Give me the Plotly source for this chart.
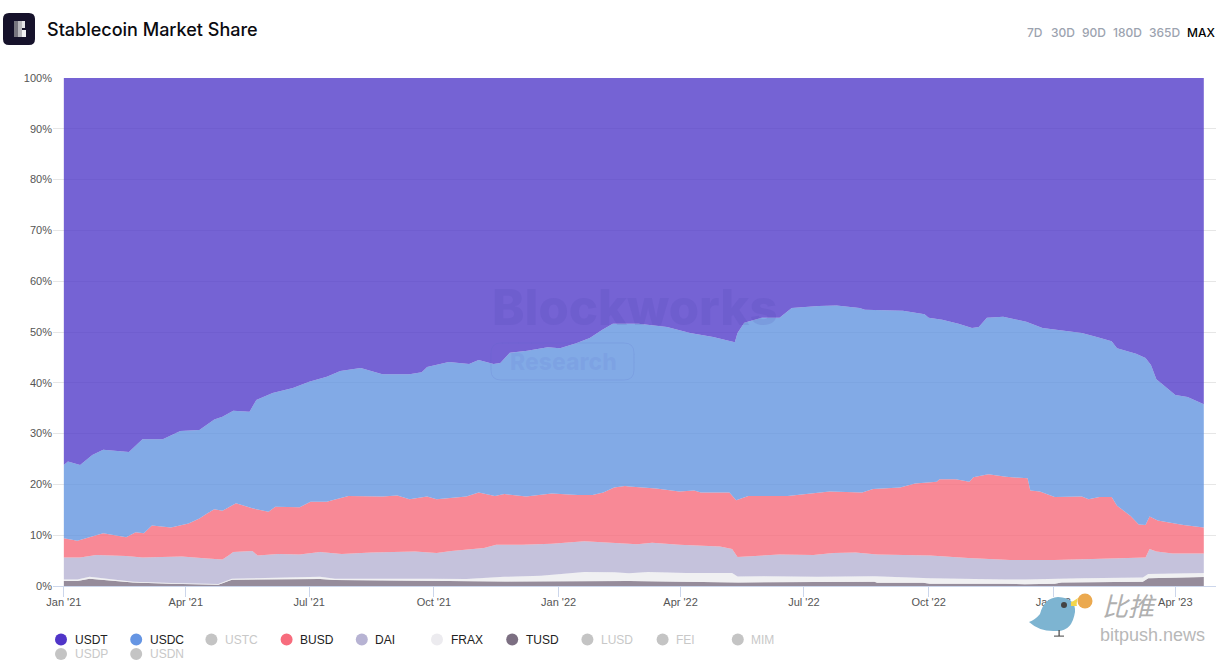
import pandas as pd
import plotly.graph_objects as go

START = pd.Timestamp("2021-01-01")

# Upper edge of each band in the 100% stack: (days since Jan 1 2021, share %)
tusd_days = [0,10,19,32,51,79,114,124,160,189,200,243,270,297,325,417,493,498,598,600,634,639,695,709,731,736,796,800,841]
tusd_top = [1.0,1.0,1.45,1.2,.7,.45,.25,1.25,1.4,1.4,1.2,1.1,1.1,1.0,.9,1.0,.85,.7,.85,.65,.65,.45,.45,.35,.45,.7,.85,1.55,1.75]

frax_days = [0,10,19,32,51,79,114,124,160,189,200,243,270,297,325,352,384,406,417,431,459,493,497,517,556,598,639,695,709,751,796,800,841]
frax_top = [1.3,1.3,1.8,1.4,.85,.6,.4,1.45,1.65,1.8,1.45,1.5,1.45,1.4,1.8,2.0,2.75,2.7,2.5,2.75,2.55,2.55,1.85,1.9,1.8,1.9,1.55,1.3,1.3,1.55,1.65,2.35,2.55]

dai_days = [0,12,24,46,58,87,106,117,122,125,139,143,158,174,189,205,227,259,275,286,310,319,338,360,384,400,417,423,434,454,484,493,497,512,528,553,568,584,600,639,667,698,731,759,798,801,806,818,841]
dai_top = [5.6,5.6,6.1,5.9,5.6,5.8,5.4,5.2,6.1,6.7,6.9,6.0,6.3,6.2,6.7,6.3,6.6,6.8,6.5,6.9,7.5,8.1,8.1,8.3,8.8,8.6,8.4,8.2,8.5,8.1,7.8,7.3,5.7,6.0,6.2,6.1,6.5,6.6,6.2,6.0,5.5,5.1,5.1,5.3,5.6,7.3,6.8,6.4,6.4]

busd_days = [0,10,29,46,53,59,65,79,92,100,106,111,117,127,139,151,156,174,182,194,198,210,235,246,255,268,275,286,297,306,318,325,341,360,379,390,398,406,414,417,437,454,465,470,491,496,505,534,565,589,597,617,628,644,646,658,668,671,682,695,711,713,720,731,751,756,764,773,777,787,793,798,801,807,826,841]
busd_top = [9.4,8.9,10.4,9.6,10.6,10.4,11.9,11.5,12.3,13.3,14.3,15.1,14.8,16.3,15.3,14.6,15.6,15.5,16.6,16.6,16.9,17.7,17.6,17.8,17.1,17.6,17.1,17.3,17.6,18.4,17.7,18.1,17.6,18.2,17.9,17.9,18.4,19.4,19.7,19.6,19.2,18.6,18.8,18.4,18.4,16.9,17.7,17.7,18.6,18.4,19.1,19.4,20.2,20.5,21,21,20.5,21.4,22,21.5,21.2,18.8,18.6,17.5,17.6,17.1,17.5,17.5,15.8,13.8,12.1,12,13.7,12.9,12,11.5]

usdc_days = [0,3,12,21,29,48,58,73,86,100,111,117,125,137,142,154,169,181,194,204,219,235,255,264,268,284,299,306,317,322,329,342,357,366,378,388,397,405,424,445,462,479,495,497,502,515,528,537,557,570,587,591,619,635,638,648,660,670,675,681,693,710,722,744,751,762,773,777,791,798,802,806,814,820,829,841]
usdc_top = [23.8,24.5,23.8,25.8,26.8,26.4,28.9,28.9,30.5,30.7,32.8,33.3,34.5,34.3,36.6,38,39,40.2,41.2,42.3,42.9,41.7,41.7,42.1,43.1,44.1,43.7,44.5,43.7,43.9,45.9,46.3,47,46.8,47.8,48.8,50.4,51.6,51.6,51,49.8,49,48,49.8,51.8,52.8,52.8,54.7,55.1,55.2,54.7,54.4,54.2,53.5,52.8,52.4,51.6,50.8,51,52.8,53,52,50.8,50,49.8,49,48.2,46.8,45.7,44.9,43.5,40.7,39,37.6,37.2,35.8]

usdt_days = [0,841]
usdt_top = [100,100]

legend_names = ["USDT","USDC","USTC","BUSD","DAI","FRAX","TUSD","LUSD","FEI","MIM","USDP","USDN"]
legend_colors = ["#5035c8","#6595e3","#c4c4c4","#f76c7d","#b7b3d3","#ecebef","#7c6f82","#c4c4c4","#c4c4c4","#c4c4c4","#c4c4c4","#c4c4c4"]
legend_active = [True,True,False,True,True,True,True,False,False,False,False,False]

x_tick_dates = ["2021-01-01","2021-04-01","2021-07-01","2021-10-01","2022-01-01","2022-04-01","2022-07-01","2022-10-01","2023-01-01","2023-04-01"]
x_tick_text = ["Jan '21","Apr '21","Jul '21","Oct '21","Jan '22","Apr '22","Jul '22","Oct '22","Jan '23","Apr '23"]
y_ticks = list(range(0,101,10))
y_tick_text = [f"{v}%" for v in y_ticks]

range_buttons = ["7D","30D","90D","180D","365D","MAX"]
range_centers = [1035,1062.5,1093.5,1127,1164,1200.5]

W, H = 1226, 661
L, R, T, B = 53, 10, 78, 75
PW, PH = W-L-R, H-T-B
def px(x): return (x-L)/PW
def py(y): return (T+PH-y)/PH
def dates(days): return [START+pd.Timedelta(days=d) for d in days]

fig = go.Figure()
bands = [
    ("TUSD", tusd_days, tusd_top, "rgba(124,111,130,.8)", "tozeroy"),
    ("FRAX", frax_days, frax_top, "rgba(236,236,239,.8)", "tonexty"),
    ("DAI", dai_days, dai_top, "rgba(183,179,211,.8)", "tonexty"),
    ("BUSD", busd_days, busd_top, "rgba(246,107,124,.8)", "tonexty"),
    ("USDC", usdc_days, usdc_top, "rgba(99,149,224,.8)", "tonexty"),
    ("USDT", usdt_days, usdt_top, "rgba(82,60,201,.8)", "tonexty"),
]
for name, d, v, c, f in bands:
    assert len(d) == len(v), name
    fig.add_trace(go.Scatter(x=dates(d), y=v, name=name, mode="lines", line=dict(width=0),
                             fill=f, fillcolor=c, showlegend=False, hoverinfo="x+y+name"))

FONT = "Liberation Sans, Arial, sans-serif"
def note(text, x, y, anchor="center", **font):
    return dict(text=text, xref="paper", yref="paper", x=px(x), y=py(y), xanchor=anchor, yanchor="middle",
                showarrow=False, font=font, borderpad=0, borderwidth=0)
ann = [
    note("Stablecoin Market Share", 47, 30, "left", family="Inter", size=18, color="#0b0b10", weight=500),
    note("Blockworks", 635, 307, family="Inter", size=49, color="rgba(70,60,170,.13)", weight=800),
    note("Research", 563, 362, family="Inter", size=23, color="rgba(90,110,210,.13)", weight=800),
    note("<i>比推</i>", 1129, 604, family="Noto Sans CJK SC", size=26, color="#b0b0b0"),
    note("bitpush.news", 1152, 635, family=FONT, size=18, color="#b8b8b8"),
]
for lab, cx in zip(range_buttons, range_centers):
    ann.append(note(lab, cx, 33, family="Inter", size=12, color="#000000" if lab=="MAX" else "#9ca3af", weight=500))

def rect(x0,y0,x1,y1,c):
    return dict(type="rect", xref="paper", yref="paper", x0=px(x0), x1=px(x1), y0=py(y0), y1=py(y1),
                fillcolor=c, line=dict(width=0), layer="above")
def circle(cx,cy,r,c):
    return dict(type="circle", xref="paper", yref="paper", x0=px(cx-r), x1=px(cx+r), y0=py(cy+r), y1=py(cy-r),
                fillcolor=c, line=dict(width=0), layer="above")
def curve(start, segs, c, line=None):
    d = f"M {px(start[0]):.5f},{py(start[1]):.5f} "
    for (a,b),(e,f_) in segs:
        d += f"Q {px(a):.5f},{py(b):.5f} {px(e):.5f},{py(f_):.5f} "
    return dict(type="path", xref="paper", yref="paper", path=d+"Z", fillcolor=c, line=line or dict(width=0), layer="above")
def rounded(x0,y0,x1,y1,r,c,line=None):
    return curve((x0+r,y0), [((x0+r,y0),(x1-r,y0)),((x1,y0),(x1,y0+r)),((x1,y0+r),(x1,y1-r)),((x1,y1),(x1-r,y1)),
                             ((x1-r,y1),(x0+r,y1)),((x0,y1),(x0,y1-r)),((x0,y1-r),(x0,y0+r)),((x0,y0),(x0+r,y0))], c, line)

shapes = [
    rounded(3,13,35,45,6,"#16122b"),
    rect(14,21,18,37,"#77757f"), rect(18,21,22,37,"#b9b8bd"), rect(22,21,25,28,"#e6e5e8"), rect(22,30,26,37,"#f2f2f3"),
    rounded(491,343,634,380,10,"rgba(0,0,0,0)",dict(width=1,color="rgba(90,100,200,.15)")),
    # source watermark: bird and coin
    curve((1029,622), [((1035,620),(1040,614)),((1044,598),(1058,597)),((1076,598),(1075,612)),((1072,632),(1056,631)),((1040,632),(1029,622))], "#7db4d1"),
    rect(1058.5,630,1059.7,636,"#444444"), rect(1054,635.6,1064,636.6,"#444444"),
    circle(1064,605,3,"#444444"), circle(1085,601,7.5,"#eba94f"),
    curve((1071,602),[((1074,601),(1078,598)),((1076,604),(1077,606)),((1074,606),(1071,606))], "#f3d64c"),
]

# legend: two rows, fixed pitch
row1_y, row2_y, pitch, x0 = 639.5, 654, 75.2, 61
for i,(n,c,a) in enumerate(zip(legend_names, legend_colors, legend_active)):
    col = i if i < 10 else i-10
    yy = row1_y if i < 10 else row2_y
    cx = x0 + pitch*col
    shapes.append(circle(cx, yy, 6, c))
    ann.append(note(n, cx+13.5, yy, "left", family=FONT, size=12, color="#222222" if a else "#c8c8c8"))

fig.update_layout(
    width=W, height=H, margin=dict(l=L, r=R, t=T, b=B, autoexpand=False), autosize=False,
    paper_bgcolor="white", plot_bgcolor="white",
    font=dict(family=FONT, size=11, color="#555555"),
    xaxis=dict(type="date", range=[START-pd.Timedelta(days=8), START+pd.Timedelta(days=850)],
               tickmode="array", tickvals=x_tick_dates, ticktext=x_tick_text, ticks="outside", ticklen=10, tickcolor="#ccd6eb",
               ticklabelstandoff=-4, tickfont=dict(size=11, color="#555555"), showgrid=False, showline=True, linecolor="#ccd6eb", zeroline=False),
    yaxis=dict(range=[0,100], tickmode="array", tickvals=y_ticks, ticktext=y_tick_text, gridcolor="#e6e6e6", zeroline=False,
               showline=False, ticks="", tickfont=dict(size=11, color="#555555")),
    showlegend=False,
    annotations=ann, shapes=shapes,
)
fig.write_html("out.html", config=dict(displayModeBar=False), post_script="document.body.style.margin='0';")
